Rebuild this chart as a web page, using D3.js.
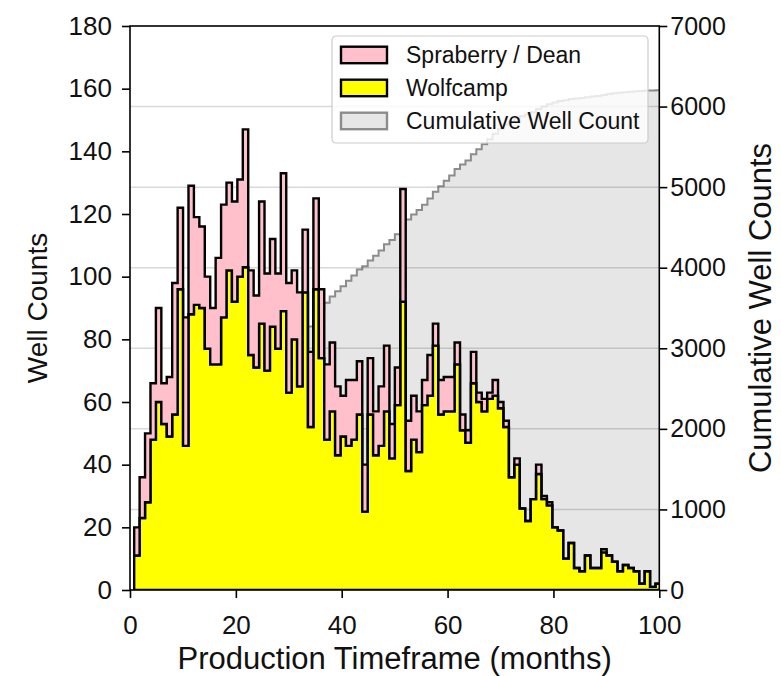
<!DOCTYPE html>
<html>
<head>
<meta charset="utf-8">
<script src="https://cdn.jsdelivr.net/npm/d3@7"></script>
<style>
  html, body { margin: 0; padding: 0; background: #fff; }
  svg { display: block; }
  text { font-family: "Liberation Sans", Arial, Helvetica, sans-serif; fill: #111; }
</style>
</head>
<body>
<svg id="chart" width="781" height="676"></svg>
<script>
// Histogram binning: 100 equal bins over the production-month range,
// only the bins inside the 0-100 month window are listed.
const binStart = 0.79;
const binWidth = 1.026;

// Wells per bin, Wolfcamp
const wolfcamp = [
  11, 23, 28, 48, 60, 53, 49, 56, 96, 46,
  88, 91, 90, 77, 72, 72, 87, 102, 92, 100,
  103, 75, 71, 85, 70, 84, 77, 89, 63, 80,
  65, 95, 52, 96, 74, 48, 57, 43, 49, 46,
  48, 56, 25, 56, 43, 46, 57, 42, 59, 92,
  38, 48, 44, 59, 62, 78, 56, 57, 57, 72,
  51, 47, 66, 60, 57, 61, 62, 58, 52, 36,
  40, 26, 22, 29, 37, 29, 27, 20, 19, 10,
  15, 7, 6, 11, 7, 7, 12, 11, 9, 6,
  8, 7, 6, 2, 6, 1, 2
];

// Wells per bin, Spraberry / Dean (stacked on Wolfcamp)
const spraberry = [
  9, 13, 22, 18, 30, 13, 19, 42, 26, 41,
  41, 28, 26, 23, 18, 34, 36, 28, 32, 31,
  44, 27, 23, 39, 31, 28, 24, 44, 35, 22,
  30, 20, 24, 29, 22, 24, 22, 22, 13, 21,
  19, 17, 15, 18, 14, 19, 21, 11, 12, 36,
  16, 14, 13, 8, 13, 7, 11, 11, 11, 7,
  5, 4, 10, 3, 4, 2, 5, 2, 2, 0,
  2, 0, 0, 0, 3, 1, 1, 0, 0, 0,
  0, 0, 0, 0, 0, 0, 1, 0, 0, 0,
  0, 0, 0, 0, 0, 0, 0
];

const xTicks = [0, 20, 40, 60, 80, 100];
const yLeftTicks = [0, 20, 40, 60, 80, 100, 120, 140, 160, 180];
const yRightTicks = [0, 1000, 2000, 3000, 4000, 5000, 6000, 7000];
const legendLabels = ["Spraberry / Dean", "Wolfcamp", "Cumulative Well Count"];

// ---------------------------------------------------------------
const svg = d3.select("#chart");
const plot = { left: 130, right: 659.3, top: 26, bottom: 590 };

const x = d3.scaleLinear().domain([0, 100]).range([plot.left, plot.right]);
const yL = d3.scaleLinear().domain([0, 180]).range([plot.bottom, plot.top]);
const yR = d3.scaleLinear().domain([0, 7000]).range([plot.bottom, plot.top]);

const total = wolfcamp.map((w, i) => w + spraberry[i]);
const cumulative = Array.from(d3.cumsum(total));

// one record per bin edge; the final edge repeats the last bin's values
const edges = wolfcamp.map((w, i) => ({
  x: binStart + i * binWidth, wolf: w, top: total[i], cum: cumulative[i]
}));
const last = edges[edges.length - 1];
edges.push({ x: binStart + wolfcamp.length * binWidth, wolf: last.wolf, top: last.top, cum: last.cum });

svg.append("defs").append("clipPath").attr("id", "plotClip")
  .append("rect")
  .attr("x", plot.left).attr("y", plot.top)
  .attr("width", plot.right - plot.left).attr("height", plot.bottom - plot.top);

const g = svg.append("g").attr("clip-path", "url(#plotClip)");

// cumulative well count (right axis), stepped fill
const cumEdges = edges.concat([{ x: 104, cum: last.cum }]);
const cumArea = d3.area()
  .curve(d3.curveStepAfter)
  .x(d => x(d.x))
  .y0(yR(0))
  .y1(d => yR(d.cum));
g.append("path")
  .datum(cumEdges)
  .attr("d", cumArea)
  .attr("fill", "#e6e6e6")
  .attr("stroke", "#8c8c8c")
  .attr("stroke-width", 2);

// horizontal grid from the right axis
g.selectAll("line.grid")
  .data(yRightTicks.filter(t => t > 0 && t < 7000))
  .join("line")
  .attr("class", "grid")
  .attr("x1", plot.left).attr("x2", plot.right)
  .attr("y1", d => yR(d)).attr("y2", d => yR(d))
  .attr("stroke", "rgba(0,0,0,0.15)")
  .attr("stroke-width", 1.5);

// Wolfcamp histogram
const wolfArea = d3.area()
  .curve(d3.curveStepAfter)
  .x(d => x(d.x))
  .y0(yL(0))
  .y1(d => yL(d.wolf));
g.append("path")
  .datum(edges)
  .attr("d", wolfArea)
  .attr("fill", "#ffff00")
  .attr("stroke", "#000")
  .attr("stroke-width", 2.4)
  .attr("stroke-linejoin", "miter");

// Spraberry / Dean stacked on top
const sprabArea = d3.area()
  .curve(d3.curveStepAfter)
  .x(d => x(d.x))
  .y0(d => yL(d.wolf))
  .y1(d => yL(d.top));
g.append("path")
  .datum(edges)
  .attr("d", sprabArea)
  .attr("fill", "#ffc0cb")
  .attr("stroke", "#000")
  .attr("stroke-width", 2.4)
  .attr("stroke-linejoin", "miter");

// frame
svg.append("rect")
  .attr("x", plot.left).attr("y", plot.top)
  .attr("width", plot.right - plot.left).attr("height", plot.bottom - plot.top)
  .attr("fill", "none").attr("stroke", "#000").attr("stroke-width", 1.6);

// axes
function styleAxis(sel, size) {
  sel.select(".domain").remove();
  sel.selectAll(".tick line").attr("stroke", "#000").attr("stroke-width", 1.6);
  sel.selectAll(".tick text").attr("font-size", size).attr("fill", "#111")
    .style("font-family", '"Liberation Sans", Arial, sans-serif');
}

svg.append("g")
  .attr("transform", `translate(0,${plot.bottom})`)
  .call(d3.axisBottom(x).tickValues(xTicks).tickFormat(d3.format("d")).tickSize(8).tickPadding(18))
  .call(s => styleAxis(s, 26));

svg.append("g")
  .attr("transform", `translate(${plot.left},0)`)
  .call(d3.axisLeft(yL).tickValues(yLeftTicks).tickFormat(d3.format("d")).tickSize(8).tickPadding(10))
  .call(s => styleAxis(s, 26));

svg.append("g")
  .attr("transform", `translate(${plot.right},0)`)
  .call(d3.axisRight(yR).tickValues(yRightTicks).tickFormat(d3.format("d")).tickSize(8).tickPadding(3))
  .call(s => styleAxis(s, 25));

// axis titles
svg.append("text")
  .attr("x", (plot.left + plot.right) / 2).attr("y", 669)
  .attr("text-anchor", "middle").attr("font-size", 31)
  .text("Production Timeframe (months)");

svg.append("text")
  .attr("transform", `translate(47,${(plot.top + plot.bottom) / 2}) rotate(-90)`)
  .attr("text-anchor", "middle").attr("font-size", 28)
  .text("Well Counts");

svg.append("text")
  .attr("transform", `translate(771,${(plot.top + plot.bottom) / 2}) rotate(-90)`)
  .attr("text-anchor", "middle").attr("font-size", 31)
  .text("Cumulative Well Counts");

// legend
const legend = svg.append("g").attr("transform", "translate(332,36)");
legend.append("rect")
  .attr("width", 316).attr("height", 107).attr("rx", 4)
  .attr("fill", "rgba(255,255,255,0.8)")
  .attr("stroke", "#cccccc").attr("stroke-width", 1.2);

const swatches = [
  { fill: "#ffc0cb", stroke: "#000" },
  { fill: "#ffff00", stroke: "#000" },
  { fill: "#e6e6e6", stroke: "#8c8c8c" }
];
const rowY = d3.scalePoint().domain(legendLabels).range([10.7, 76.7]);
const rows = legend.selectAll("g.row")
  .data(legendLabels)
  .join("g")
  .attr("class", "row")
  .attr("transform", d => `translate(0,${rowY(d)})`);
rows.append("rect")
  .attr("x", 9).attr("width", 46).attr("height", 16.5)
  .attr("fill", (d, i) => swatches[i].fill)
  .attr("stroke", (d, i) => swatches[i].stroke)
  .attr("stroke-width", 2.4);
rows.append("text")
  .attr("x", 74).attr("y", 16.5)
  .attr("font-size", 23)
  .text(d => d);
</script>
</body>
</html>
